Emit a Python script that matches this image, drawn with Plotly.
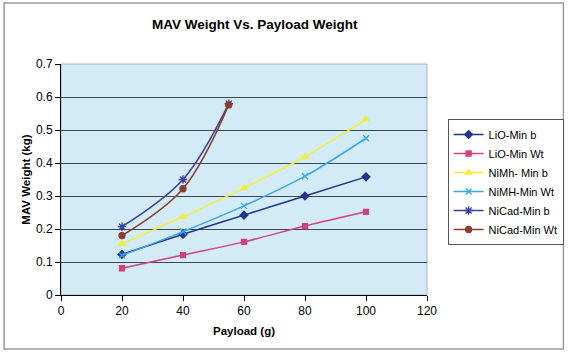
import plotly.graph_objects as go

payload_a = [20, 40, 60, 80, 100]
payload_nicad = [20, 40, 55]

lio_min_b = [0.123, 0.184, 0.242, 0.300, 0.358]
lio_min_wt = [0.081, 0.121, 0.161, 0.209, 0.252]
nimh_min_b = [0.155, 0.237, 0.324, 0.419, 0.532]
nimh_min_wt = [0.120, 0.192, 0.270, 0.360, 0.475]
nicad_min_b = [0.207, 0.350, 0.580]
nicad_min_wt = [0.180, 0.322, 0.576]

y_ticks = [0, 0.1, 0.2, 0.3, 0.4, 0.5, 0.6, 0.7]
y_tick_labels = ["0", "0.1", "0.2", "0.3", "0.4", "0.5", "0.6", "0.7"]

series = [
    ("LiO-Min b", payload_a, lio_min_b, "#1f3590", "diamond", 6),
    ("LiO-Min Wt", payload_a, lio_min_wt, "#d2417e", "square", 5),
    ("NiMh- Min b", payload_a, nimh_min_b, "#f2ee3c", "triangle-up", 6),
    ("NiMH-Min Wt", payload_a, nimh_min_wt, "#3aa6ee", "x-thin", 6),
    ("NiCad-Min b", payload_nicad, nicad_min_b, "#3b3fa0", "asterisk", 7),
    ("NiCad-Min Wt", payload_nicad, nicad_min_wt, "#8a3e2c", "circle", 6),
]

fig = go.Figure()
for name, xs, ys, color, sym, size in series:
    fig.add_trace(go.Scatter(
        x=xs, y=ys, name=name, mode="lines+markers",
        line=dict(color=color, width=1.5, shape="spline"),
        marker=dict(symbol=sym, size=size, color=color,
                    line=dict(color=color, width=1.3)),
    ))

W, H = 576, 352
L, R, T, B = 61, 142, 64, 57
pw, ph = W - L - R, H - T - B

def px2x(px):
    return (px - L) / pw

def px2y(py):
    return (H - B - py) / ph

fig.update_layout(
    width=W, height=H,
    margin=dict(l=L, r=R, t=T, b=B),
    paper_bgcolor="white",
    plot_bgcolor="#d3ebf6",
    font=dict(family="Liberation Sans, Arial, sans-serif", size=11, color="black"),
    showlegend=True,
    legend=dict(
        x=px2x(455), y=px2y(119), xanchor="left", yanchor="top",
        bordercolor="#555", borderwidth=1, bgcolor="white",
        font=dict(size=11), tracegroupgap=0, itemwidth=30,
    ),
    xaxis=dict(
        range=[0, 120], dtick=20, showgrid=False, zeroline=False,
        showline=True, linecolor="black", linewidth=1,
        ticks="outside", ticklen=5, tickcolor="black",
        tickfont=dict(size=12),
    ),
    yaxis=dict(
        range=[0, 0.7], tickvals=y_ticks, ticktext=y_tick_labels,
        showgrid=True, gridcolor="#3a4a50", gridwidth=1,
        zeroline=False, showline=True, linecolor="black", linewidth=1,
        ticks="outside", ticklen=5, tickcolor="black",
        tickfont=dict(size=12),
    ),
    shapes=[
        dict(type="rect", xref="paper", yref="paper",
             x0=px2x(3), x1=px2x(573), y0=px2y(349), y1=px2y(3),
             line=dict(color="#999", width=1.5), fillcolor="rgba(0,0,0,0)", layer="below"),
        dict(type="rect", xref="paper", yref="paper",
             x0=0, x1=1, y0=0, y1=1,
             line=dict(color="#9fb6c2", width=1), fillcolor="rgba(0,0,0,0)", layer="below"),
    ],
    annotations=[
        dict(text="<b>MAV Weight Vs. Payload Weight</b>", xref="paper", yref="paper",
             x=px2x(259), y=px2y(24), showarrow=False, font=dict(size=13.5),
             xanchor="center", yanchor="middle"),
        dict(text="<b>MAV Weight (kg)</b>", xref="paper", yref="paper",
             x=px2x(25), y=px2y(180), showarrow=False, font=dict(size=11.5),
             textangle=-90, xanchor="center", yanchor="middle"),
        dict(text="<b>Payload (g)</b>", xref="paper", yref="paper",
             x=px2x(247), y=px2y(331), showarrow=False, font=dict(size=11.5),
             xanchor="center", yanchor="middle"),
    ],
)

fig.write_html("out.html")
